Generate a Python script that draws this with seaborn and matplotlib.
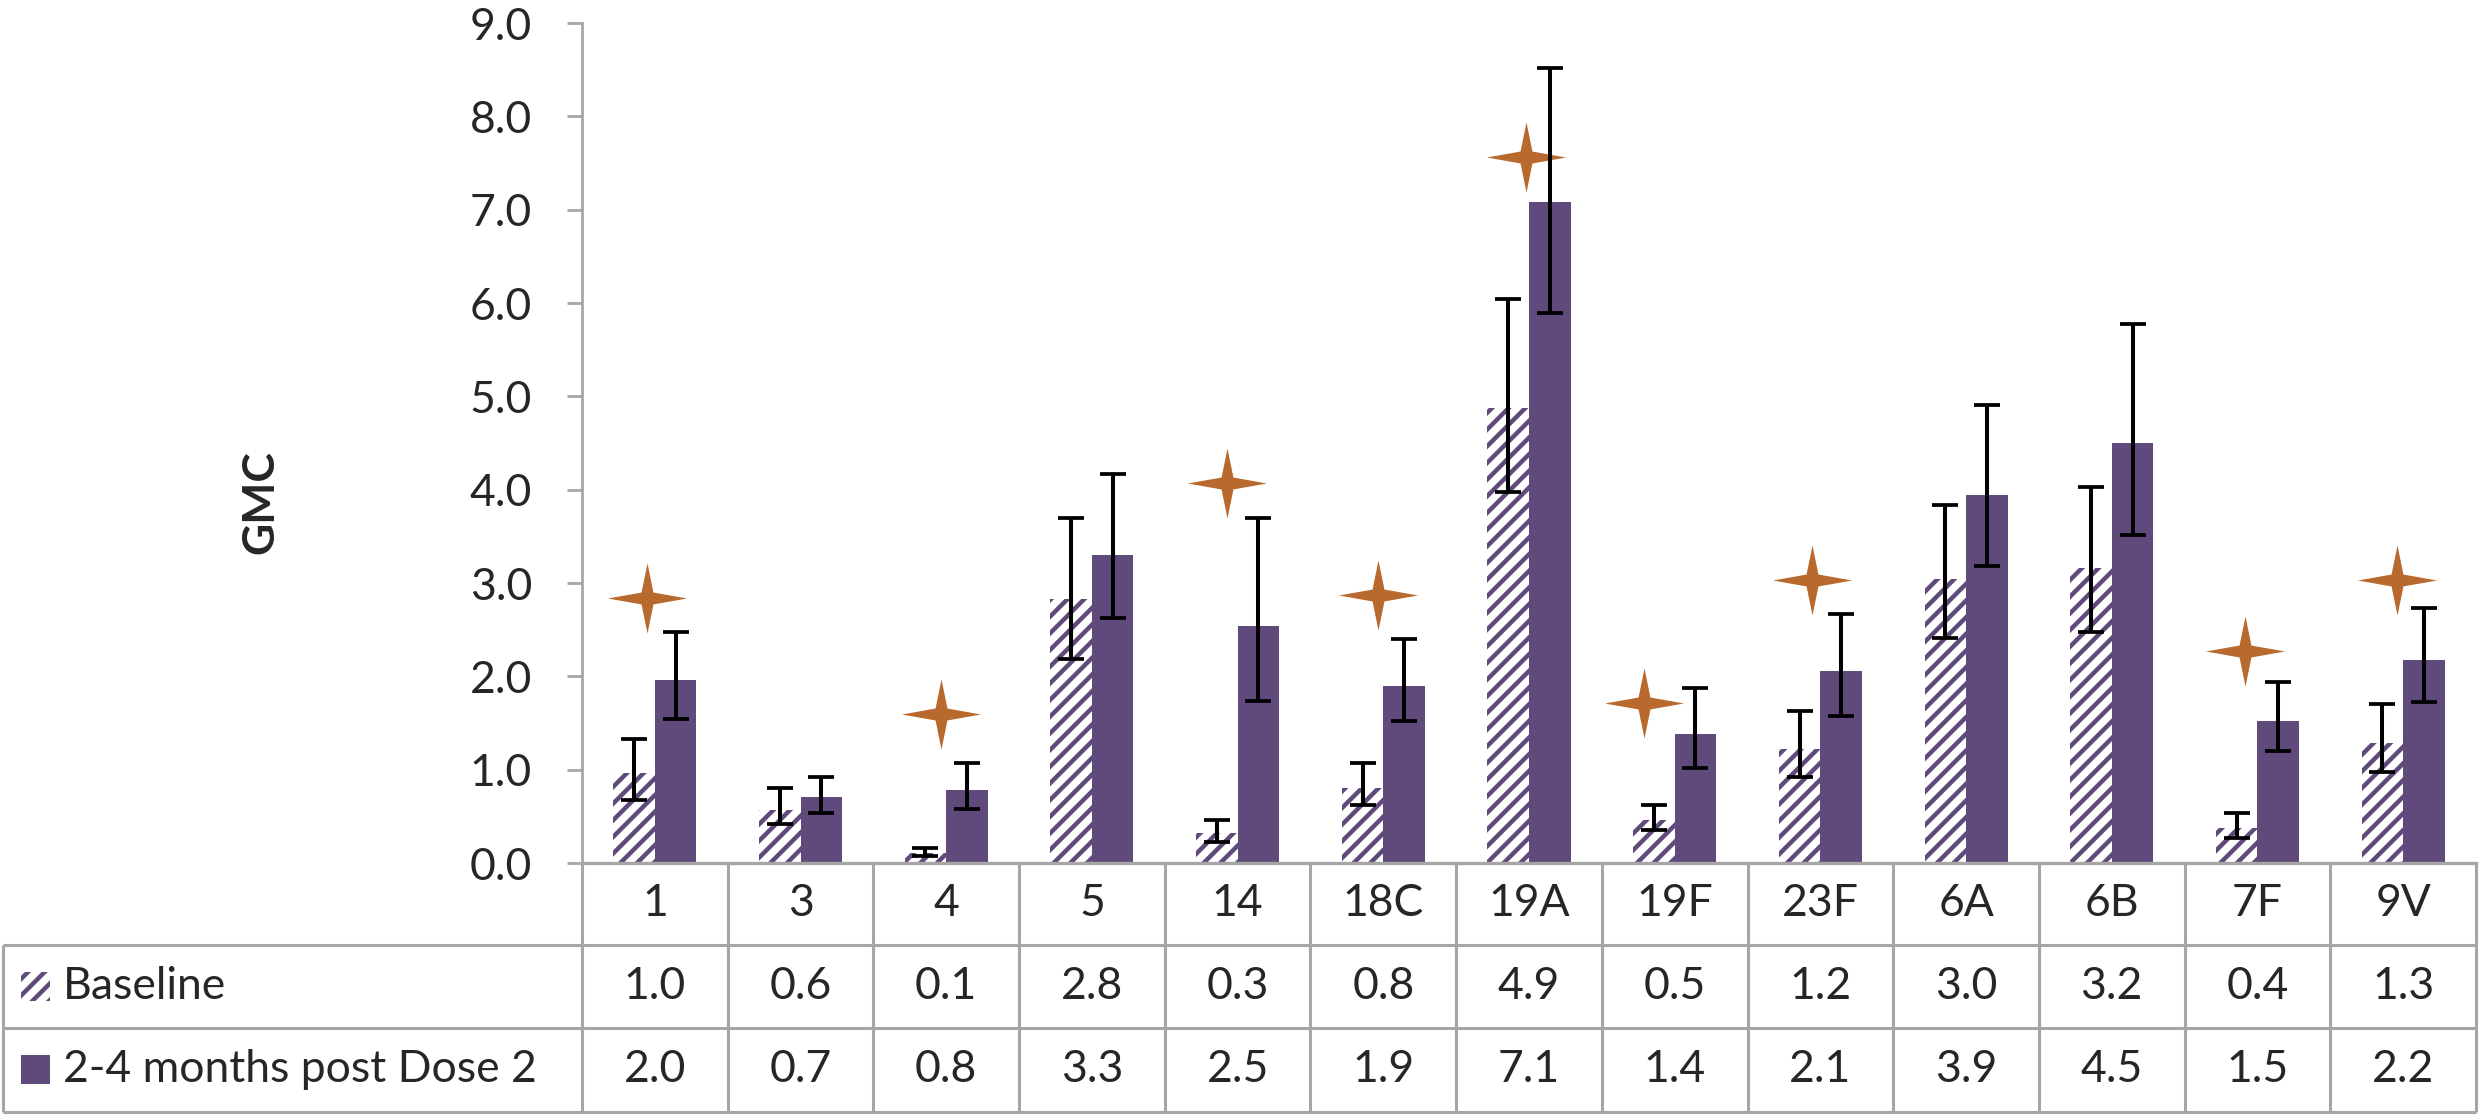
import numpy as np
import pandas as pd
import seaborn as sns
import matplotlib.pyplot as plt
from matplotlib.path import Path
from matplotlib.patches import Rectangle

# serotypes and GMC values
serotypes = ['1', '3', '4', '5', '14', '18C', '19A', '19F', '23F', '6A', '6B', '7F', '9V']
groups = ['Baseline', '2-4 months post Dose 2']

baseline = [0.96, 0.57, 0.11, 2.83, 0.32, 0.80, 4.88, 0.46, 1.22, 3.04, 3.16, 0.37, 1.29]
base_lo = [0.68, 0.42, 0.08, 2.19, 0.23, 0.62, 3.97, 0.35, 0.92, 2.41, 2.47, 0.27, 0.98]
base_hi = [1.33, 0.80, 0.16, 3.70, 0.46, 1.07, 6.04, 0.62, 1.63, 3.84, 4.03, 0.54, 1.70]

dose2 = [1.96, 0.71, 0.78, 3.30, 2.54, 1.90, 7.08, 1.38, 2.06, 3.94, 4.50, 1.52, 2.17]
dose_lo = [1.54, 0.54, 0.58, 2.63, 1.74, 1.52, 5.89, 1.02, 1.58, 3.18, 3.51, 1.20, 1.73]
dose_hi = [2.47, 0.92, 1.07, 4.17, 3.70, 2.40, 8.52, 1.88, 2.67, 4.91, 5.77, 1.94, 2.73]

# significance stars
star_serotypes = ['1', '4', '14', '18C', '19A', '19F', '23F', '7F', '9V']
star_y = [2.84, 1.60, 4.07, 2.87, 7.56, 1.71, 3.03, 2.27, 3.03]
star_shift = [-0.054, -0.037, -0.073, -0.033, -0.021, -0.21, -0.056, -0.084, -0.042]

purple = '#604A7B'
star_col = '#B8692E'
grid_col = '#A6A6A6'

sns.set_style('white')
plt.rcParams['font.family'] = ['Lato', 'DejaVu Sans']
plt.rcParams['hatch.linewidth'] = 3.2

df = pd.DataFrame({
    'serotype': serotypes * 2,
    'gmc': baseline + dose2,
    'group': [groups[0]] * len(serotypes) + [groups[1]] * len(serotypes),
})

W, H = 2480, 1115
fig = plt.figure(figsize=(W / 100, H / 100), dpi=100)
ax = fig.add_axes([582 / W, 1 - 863 / H, (2476 - 582) / W, (863 - 23) / H])

sns.barplot(data=df, x='serotype', y='gmc', hue='group', order=serotypes,
            hue_order=groups, palette=[purple, purple], width=0.57,
            errorbar=None, saturation=1, legend=False, ax=ax)

# baseline bars: purple diagonal stripes on white
for p in ax.containers[0]:
    p.set_facecolor('white')
    p.set_edgecolor(purple)
    p.set_hatch('//')
    p.set_linewidth(0)
for p in ax.containers[1]:
    p.set_linewidth(0)

for cont, vals, lo, hi in [(ax.containers[0], baseline, base_lo, base_hi),
                           (ax.containers[1], dose2, dose_lo, dose_hi)]:
    xs = [p.get_x() + p.get_width() / 2 for p in cont]
    v = np.array(vals)
    err = [v - np.array(lo), np.array(hi) - v]
    ax.errorbar(xs, v, yerr=err, fmt='none', ecolor='black', elinewidth=2.9,
                capsize=9.4, capthick=2.7, zorder=4)

# four-pointed star marker
r = 0.17
star = Path([(0, 1), (r, r), (1.13, 0), (r, -r), (0, -1), (-r, -r), (-1.13, 0), (-r, r), (0, 1)],
            [Path.MOVETO] + [Path.LINETO] * 7 + [Path.CLOSEPOLY])
sx = [serotypes.index(s) + d for s, d in zip(star_serotypes, star_shift)]
ax.plot(sx, star_y, linestyle='none', marker=star, markersize=57,
        color=star_col, markeredgewidth=0, zorder=3)

n = len(serotypes)
ax.set_ylim(0, 9)
ax.set_yticks(np.arange(0, 10, 1))
ax.set_yticklabels([f'{t:.1f}' for t in np.arange(0, 10, 1)], fontsize=32)
ax.tick_params(axis='y', length=11, width=2, color=grid_col, pad=25, left=True)
ax.tick_params(axis='x', length=0, labelbottom=False)
ax.set_xlabel('')
ax.set_ylabel('GMC', fontsize=32, fontweight='bold')
ax.yaxis.set_label_coords(-0.159, 0.43)
sns.despine(ax=ax)
ax.spines['left'].set_color(grid_col)
ax.spines['left'].set_linewidth(2)
ax.spines['bottom'].set_color(grid_col)
ax.spines['bottom'].set_linewidth(2.4)

# data table under the axis
tr = ax.get_xaxis_transform()
x_left = -0.5 - 579 / 145.7
rows_y = [0, -0.0976, -0.1964, -0.2964]
lk = dict(color=grid_col, lw=2.2, clip_on=False, transform=tr, solid_capstyle='butt',
          scalex=False, scaley=False)
for k in range(n + 1):
    ax.plot([k - 0.5, k - 0.5], [rows_y[0], rows_y[3]], **lk)
ax.plot([x_left, x_left], [rows_y[1], rows_y[3]], **lk)
for yy in rows_y[1:]:
    ax.plot([x_left, n - 0.5], [yy, yy], **lk)

fs = 32
mid = [(rows_y[i] + rows_y[i + 1]) / 2 for i in range(3)]
for k, s in enumerate(serotypes):
    ax.text(k, mid[0], s, ha='center', va='center', fontsize=fs, transform=tr)
    ax.text(k, mid[1], f'{baseline[k]:.1f}', ha='center', va='center', fontsize=fs, transform=tr)
    ax.text(k, mid[2], f'{dose2[k]:.1f}', ha='center', va='center', fontsize=fs, transform=tr)

key_x = -0.5 - (582 - 21) / 145.7
key_w = 29 / 145.7
key_h = 29 / 840
for i, lab in enumerate(groups):
    if i == 0:
        rect = Rectangle((key_x, mid[1] - key_h / 2), key_w, key_h, transform=tr, clip_on=False,
                         facecolor='white', edgecolor=purple, hatch='//', linewidth=0)
    else:
        rect = Rectangle((key_x, mid[2] - key_h / 2), key_w, key_h, transform=tr, clip_on=False,
                         facecolor=purple, linewidth=0)
    ax.add_patch(rect)
    ax.text(-0.5 - (582 - 63) / 145.7, mid[i + 1], lab, ha='left', va='center',
            fontsize=fs, transform=tr)

ax.set_xlim(-0.5, n - 0.5)
fig.savefig('out.png', dpi=100)
